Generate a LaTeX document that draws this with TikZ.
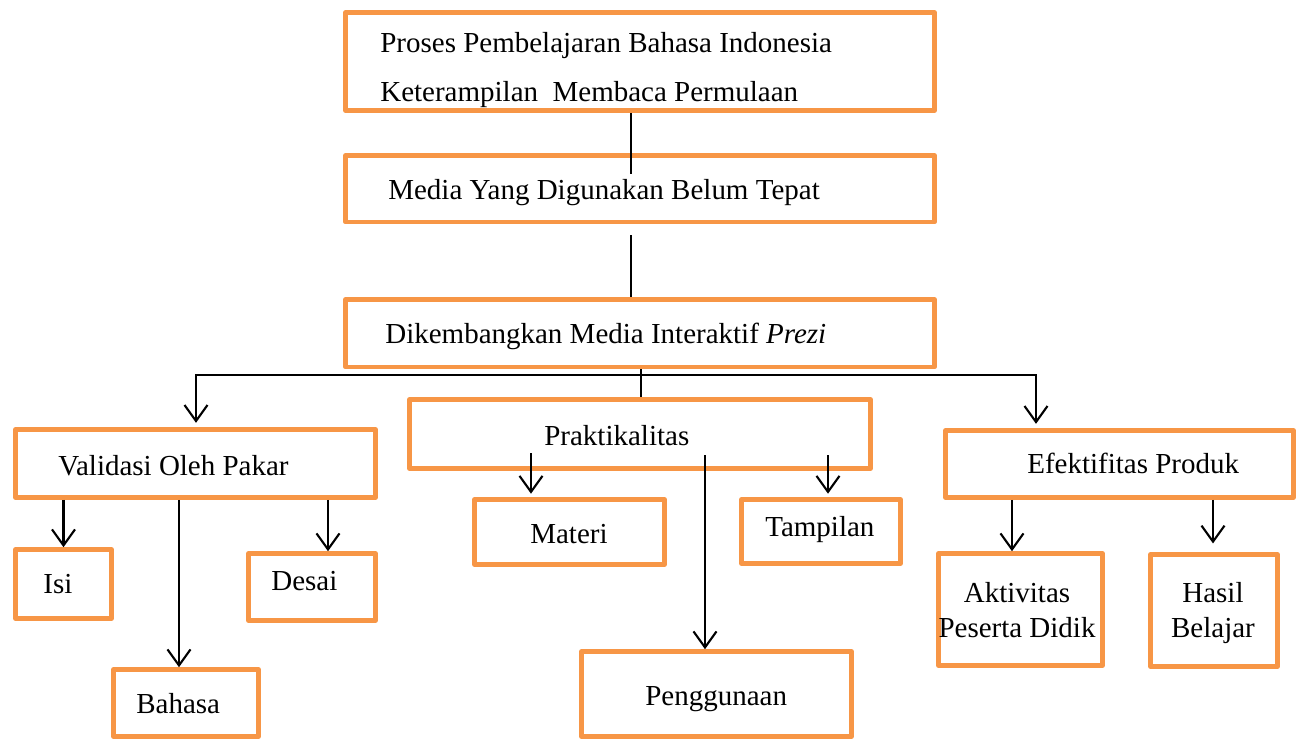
\documentclass[tikz,border=0pt]{standalone}
\usepackage{fontspec}
\setmainfont{Liberation Serif}
\usepackage{xcolor}
\usetikzlibrary{arrows.meta,fit,calc}

\definecolor{boxorange}{HTML}{F79646}

\tikzset{
  box/.style={draw=boxorange, line width=2.6pt, line join=round, inner sep=0pt, rectangle},
  lbl/.style={font=\fontsize{16.5}{20}\selectfont, inner sep=0pt, anchor=base west},
  lblc/.style={lbl, anchor=base},
  ln/.style={draw=black, line width=1.2pt},
  arr/.style={ln, -{Straight Barb[length=0.32cm, width=0.46cm, line width=1.2pt]}}
}

\begin{document}
\begin{tikzpicture}[x=0.02cm, y=-0.02cm]
\useasboundingbox (0,0) rectangle (1299,740);

% kotak
\node[box, fit={(345.5,12.5) (934.5,110.5)}] (proses) {};
\node[box, fit={(345.5,155.5) (934.5,222)}] (media) {};
\node[box, fit={(345.5,299.5) (934.5,367)}] (prezi) {};
\node[box, fit={(15.5,429.5) (375.5,497.5)}] (validasi) {};
\node[box, fit={(409.5,399.5) (870.5,468.5)}] (prakt) {};
\node[box, fit={(945.5,430.5) (1293.5,497.5)}] (efek) {};
\node[box, fit={(15.5,549.5) (111.5,618.5)}] (isi) {};
\node[box, fit={(248.5,553.5) (375.5,620.5)}] (desai) {};
\node[box, fit={(113.5,669.5) (258.5,736.5)}] (bahasa) {};
\node[box, fit={(474.5,499.5) (664.5,564.5)}] (materi) {};
\node[box, fit={(741.5,499.5) (900.5,563.5)}] (tampilan) {};
\node[box, fit={(581.5,651.5) (851.5,736.5)}] (penggunaan) {};
\node[box, fit={(938.5,553.5) (1102.5,665.5)}] (aktivitas) {};
\node[box, fit={(1150.5,554.5) (1277.5,666.5)}] (hasil) {};

% teks
\node[lbl] (tproses1) at (380,53) {Proses Pembelajaran Bahasa Indonesia};
\node[lbl] (tproses2) at (380,102) {Keterampilan\ \ Membaca Permulaan};
\node[lbl] (tmedia) at (388,199) {Media Yang Digunakan Belum Tepat};
\node[lbl] (tprezi) at (385,343) {Dikembangkan Media Interaktif \textit{Prezi}};
\node[lbl] (tvalidasi) at (58,475) {Validasi Oleh Pakar};
\node[lbl] (tprakt) at (544,445) {Praktikalitas};
\node[lbl] (tefek) at (1027,473) {Efektifitas Produk};
\node[lbl] (tisi) at (43,593) {Isi};
\node[lbl] (tdesai) at (271,590) {Desai};
\node[lbl] (tbahasa) at (136,713) {Bahasa};
\node[lbl] (tmateri) at (530,543) {Materi};
\node[lbl] (ttampilan) at (765,536) {Tampilan};
\node[lbl] (tpenggunaan) at (645,705) {Penggunaan};
\node[lblc] (taktiv1) at (1017,602) {Aktivitas};
\node[lblc] (taktiv2) at (1017,637) {Peserta Didik};
\node[lblc] (thasil1) at (1213,602) {Hasil};
\node[lblc] (thasil2) at (1213,637) {Belajar};

% titik bantu
\coordinate (m1) at (631,174);
\coordinate (m2) at (631,235);
\coordinate (hub) at (641,375);
\coordinate (hl) at (196,375);
\coordinate (hr) at (1036,375);
\coordinate (vb) at (179,0);
\coordinate (vd) at (328,0);
\coordinate (pm) at (531,453);
\coordinate (pp) at (705,455);
\coordinate (pt) at (828,455);
\coordinate (ea) at (1012,0);
\coordinate (eh) at (1213,0);

% garis
\draw[ln] (proses.south -| m1) -- (m1);
\draw[ln] (m2) -- (m2 |- prezi.north);
\draw[ln] (prezi.south -| hub) -- (prakt.north -| hub);
\draw[arr, shorten >=2.5pt] (hub) -| (validasi.north -| hl);
\draw[arr, shorten >=2.5pt] (hub) -| (efek.north -| hr);

\draw[arr] (validasi.south -| isi) -- (isi.north);
\draw[arr] (validasi.south -| vb) -- (vb |- bahasa.north);
\draw[arr] (validasi.south -| vd) -- (vd |- desai.north);

\draw[arr, shorten >=2pt] (pm) -- (pm |- materi.north);
\draw[arr] (pp) -- (pp |- penggunaan.north);
\draw[arr, shorten >=2pt] (pt) -- (pt |- tampilan.north);

\draw[arr] (efek.south -| ea) -- (ea |- aktivitas.north);
\draw[arr, shorten >=5pt] (efek.south -| eh) -- (eh |- hasil.north);
\end{tikzpicture}
\end{document}
